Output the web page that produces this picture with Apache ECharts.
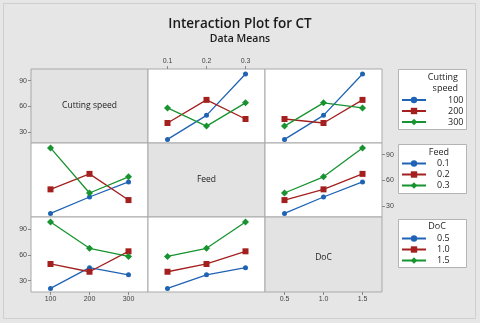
<!DOCTYPE html>
<html>
<head>
<meta charset="utf-8">
<script src="https://cdn.jsdelivr.net/npm/echarts@6/dist/echarts.min.js"></script>
<style>html,body{margin:0;padding:0;background:#e6e6e6}#c{width:480px;height:323px}</style>
</head>
<body>
<div id="c"></div>
<script>
// ---- Data ----
const factorNames = ['Cutting speed', 'Feed', 'DoC'];
const speedLevels = ['100', '200', '300'];
const feedLevels = ['0.1', '0.2', '0.3'];
const docLevels = ['0.5', '1.0', '1.5'];
const yTicks = [30, 60, 90];

// Row 1, col 2: CT mean vs Feed, one line per Cutting speed
const feedBySpeed100 = [21, 49.3, 98];
const feedBySpeed200 = [40.3, 67.5, 45];
const feedBySpeed300 = [58, 36.7, 64];
// Row 1, col 3: CT mean vs DoC, one line per Cutting speed
const docBySpeed100 = [21, 49.3, 98];
const docBySpeed200 = [45, 40.3, 67.5];
const docBySpeed300 = [36.7, 64, 58];
// Row 2, col 1: CT mean vs Cutting speed, one line per Feed
const speedByFeed01 = [21, 40.3, 58];
const speedByFeed02 = [49.3, 67.5, 36.7];
const speedByFeed03 = [98, 45, 64];
// Row 2, col 3: CT mean vs DoC, one line per Feed
const docByFeed01 = [21, 40.3, 58];
const docByFeed02 = [36.7, 49.3, 67.5];
const docByFeed03 = [45, 64, 98];
// Row 3, col 1: CT mean vs Cutting speed, one line per DoC
const speedByDoc05 = [21, 45, 36.7];
const speedByDoc10 = [49.3, 40.3, 64];
const speedByDoc15 = [98, 67.5, 58];
// Row 3, col 2: CT mean vs Feed, one line per DoC
const feedByDoc05 = [21, 36.7, 45];
const feedByDoc10 = [40.3, 49.3, 64];
const feedByDoc15 = [58, 67.5, 98];

// ---- Layout / style ----
const colors = ['#1f63b4', '#a3201f', '#17932f'];
const symbols = ['circle', 'rect', 'diamond'];
const symSizes = [5, 6, 7];
const colLeft = [31, 148, 265];
const rowTop = [69, 143, 217];
const cellW = 117, cellH = 74;
const yMin = 16.8, yMax = 103.8;
const levelsByFactor = [speedLevels, feedLevels, docLevels];

const panelData = {
  '0,1': [feedBySpeed100, feedBySpeed200, feedBySpeed300],
  '0,2': [docBySpeed100, docBySpeed200, docBySpeed300],
  '1,0': [speedByFeed01, speedByFeed02, speedByFeed03],
  '1,2': [docByFeed01, docByFeed02, docByFeed03],
  '2,0': [speedByDoc05, speedByDoc10, speedByDoc15],
  '2,1': [feedByDoc05, feedByDoc10, feedByDoc15]
};
const xLabelPanels = {'0,1': 'top', '2,0': 'bottom', '2,2': 'bottom'};
const yLabelPanels = {'0,0': 'left', '1,2': 'right', '2,0': 'left'};

const labelFont = {fontFamily: 'Liberation Sans', fontSize: 7, color: '#444'};

const grids = [], xAxes = [], yAxes = [], series = [], graphics = [];
let gi = 0;
for (let r = 0; r < 3; r++) {
  for (let c = 0; c < 3; c++) {
    const key = r + ',' + c;
    const diag = r === c;
    grids.push({
      left: colLeft[c], top: rowTop[r], width: cellW, height: cellH + (r === 2 ? 1 : 0),
      show: true, backgroundColor: diag ? '#e3e3e3' : '#ffffff',
      borderColor: '#a9a9a9', borderWidth: 1
    });
    const xPos = xLabelPanels[key];
    xAxes.push({
      gridIndex: gi, type: 'category', data: levelsByFactor[c], boundaryGap: true,
      position: xPos || 'bottom',
      axisLine: {show: false}, splitLine: {show: false},
      axisTick: {show: !!xPos, alignWithLabel: true, length: 3, lineStyle: {color: '#8a8a8a'}},
      axisLabel: Object.assign({show: !!xPos, margin: 4}, labelFont)
    });
    const yPos = yLabelPanels[key];
    yAxes.push({
      gridIndex: gi, type: 'value', min: yMin, max: yMax,
      position: yPos || 'left',
      axisLine: {show: false}, splitLine: {show: false},
      axisTick: {show: !!yPos, length: 3, customValues: yTicks, lineStyle: {color: '#8a8a8a'}},
      axisLabel: Object.assign({show: !!yPos, margin: 4, customValues: yTicks}, labelFont)
    });
    if (diag) {
      graphics.push({
        type: 'text',
        style: {text: factorNames[r], x: colLeft[c] + cellW / 2, y: rowTop[r] + cellH / 2 + (r === 2 ? 4 : 0),
          align: 'center', verticalAlign: 'middle',
          font: '500 8.5px "Open Sans"', fill: '#222'}
      });
    } else {
      const lines = panelData[key];
      const lineLevels = levelsByFactor[r];
      lines.forEach((vals, k) => {
        series.push({
          type: 'line', name: lineLevels[k], xAxisIndex: gi, yAxisIndex: gi,
          data: vals, symbol: symbols[k], symbolSize: symSizes[k],
          showSymbol: true, animation: false,
          lineStyle: {color: colors[k], width: 1.3},
          itemStyle: {color: colors[k]}
        });
      });
    }
    gi++;
  }
}

const legendBoxes = [
  {y: 69, h: 60, titles: [['Cutting', 77], ['speed', 88]], align: 'right', tx: 458, top: 94.5, pad: 17},
  {y: 144, h: 49, titles: [['Feed', 152.5]], align: 'center', tx: 439, top: 158, pad: 6},
  {y: 219, h: 48, titles: [['DoC', 226.5]], align: 'center', tx: 437, top: 233, pad: 6}
];
const legends = [];
legendBoxes.forEach((b, i) => {
  graphics.push({type: 'rect', shape: {x: 398.5, y: b.y + 0.5, width: 68, height: b.h},
    style: {fill: '#ffffff', stroke: '#b4b4b4', lineWidth: 1}, z: -1});
  b.titles.forEach(t => graphics.push({type: 'text', style: {text: t[0], x: b.tx, y: t[1],
    align: b.align, verticalAlign: 'middle', font: '500 9px "Open Sans"', fill: '#222'}}));
  legends.push({
    data: levelsByFactor[i], orient: 'vertical', left: 401, top: b.top,
    itemWidth: 24, itemHeight: 8, itemGap: 0, padding: 0,
    textStyle: {fontFamily: 'Open Sans', fontSize: 9, lineHeight: 11, color: '#222', padding: [0, 0, 0, b.pad]},
    selectedMode: false
  });
});

graphics.push({type: 'text', style: {text: 'Interaction Plot for CT', x: 240, y: 24,
  align: 'center', verticalAlign: 'middle', font: '600 13.5px "Open Sans"', fill: '#1a1a1a'}});
graphics.push({type: 'text', style: {text: 'Data Means', x: 240, y: 39.5,
  align: 'center', verticalAlign: 'middle', font: '600 10.5px "Open Sans"', fill: '#1a1a1a'}});
graphics.push({type: 'rect', shape: {x: 3.5, y: 3.5, width: 472, height: 315},
  style: {fill: 'none', stroke: '#cfcfcf', lineWidth: 1}, z: -2});

const chart = echarts.init(document.getElementById('c'), null, {renderer: 'canvas'});
chart.setOption({
  backgroundColor: '#e6e6e6',
  animation: false,
  grid: grids, xAxis: xAxes, yAxis: yAxes, series: series,
  legend: legends, graphic: graphics
});
</script>
</body>
</html>
